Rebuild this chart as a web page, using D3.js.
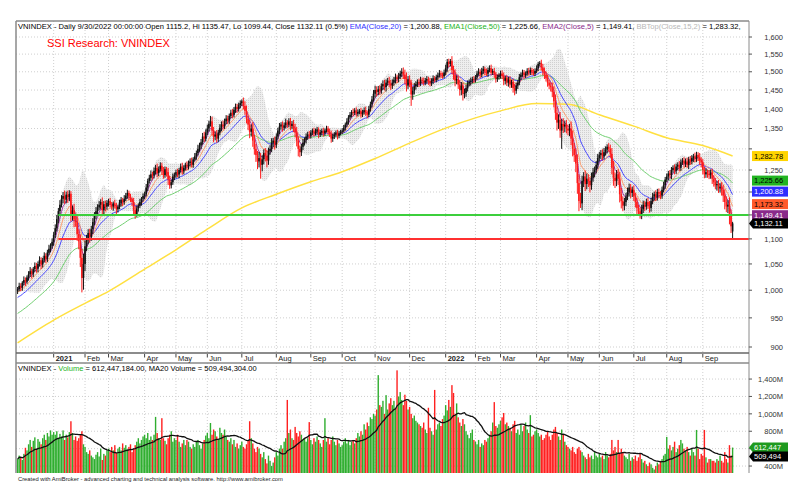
<!DOCTYPE html>
<html>
<head>
<meta charset="utf-8">
<script src="https://cdn.jsdelivr.net/npm/d3@7"></script>
<style>
  body { margin: 0; background: #fff; }
  svg { display: block; font-family: "Liberation Sans", Arial, sans-serif; }
</style>
</head>
<body>
<svg id="chart" width="800" height="485"></svg>
<script>
// ---- data ----
const monthLabels = ["", "2021", "Feb", "Mar", "Apr", "May", "Jun", "Jul", "Aug", "Sep", "Oct", "Nov",
  "Dec", "2022", "Feb", "Mar", "Apr", "May", "Jun", "Jul", "Aug", "Sep"];
const monthBars = [23, 20, 15, 23, 20, 20, 22, 22, 22, 20, 21, 22, 23, 19, 16, 23, 20, 20, 22, 21, 23, 20];

const closes = [
  1002, 1008, 1005, 1014, 1019, 1016, 1024, 1030, 1036, 1031, 1040, 1046, 1041, 1050, 1057, 1049, 1058, 1066, 1060, 1072, 1080, 1086, 1094,
  1108, 1122, 1141, 1158, 1172, 1185, 1191, 1183, 1194, 1188, 1196, 1150, 1160, 1140, 1135, 1110, 1095, 1062, 1023, 1050,
  1085, 1098, 1112, 1104, 1120, 1135, 1150, 1158, 1166, 1172, 1178, 1160, 1173, 1168, 1176,
  1180, 1172, 1168, 1175, 1170, 1162, 1167, 1176, 1183, 1178, 1185, 1192, 1198, 1190, 1184, 1178, 1160, 1152, 1164, 1170, 1178, 1185, 1191,
  1195, 1210, 1225, 1232, 1240, 1237, 1248, 1255, 1243, 1252, 1260, 1248, 1238, 1252, 1245, 1228, 1215, 1222, 1235, 1239,
  1245, 1240, 1250, 1258, 1247, 1255, 1262, 1258, 1266, 1270, 1262, 1275, 1282, 1290, 1300, 1308, 1316, 1330, 1325, 1340,
  1350, 1362, 1368, 1345, 1330, 1335, 1325, 1340, 1352, 1360, 1355, 1368, 1375, 1370, 1382, 1390, 1385, 1398, 1405, 1400, 1410, 1415,
  1420, 1408, 1395, 1375, 1360, 1342, 1350, 1320, 1300, 1285, 1270, 1278, 1262, 1275, 1290, 1284, 1272, 1295, 1300, 1315, 1320, 1310,
  1330, 1345, 1355, 1360, 1352, 1358, 1365, 1360, 1368, 1356, 1362, 1350, 1340, 1320, 1300, 1292, 1305, 1315, 1322, 1330, 1335, 1332,
  1340, 1345, 1338, 1342, 1348, 1335, 1340, 1344, 1338, 1345, 1350, 1342, 1336, 1325, 1330, 1335, 1340, 1332, 1338, 1342,
  1345, 1352, 1360, 1368, 1378, 1385, 1392, 1390, 1396, 1388, 1392, 1395, 1386, 1392, 1397, 1390, 1385, 1400, 1412, 1425, 1440,
  1450, 1445, 1452, 1448, 1460, 1466, 1458, 1470, 1475, 1468, 1462, 1470, 1478, 1485, 1480, 1488, 1495, 1500, 1492, 1480, 1462, 1478,
  1470, 1438, 1448, 1460, 1466, 1472, 1468, 1478, 1475, 1470, 1476, 1480, 1474, 1468, 1475, 1482, 1478, 1485, 1490, 1496, 1492, 1488, 1498,
  1510, 1528, 1522, 1530, 1505, 1492, 1476, 1480, 1465, 1450, 1462, 1440, 1442, 1455, 1468, 1472, 1475, 1480, 1478,
  1485, 1495, 1500, 1492, 1502, 1508, 1500, 1495, 1505, 1510, 1498, 1502, 1492, 1480, 1485, 1490,
  1495, 1488, 1475, 1482, 1470, 1478, 1465, 1472, 1455, 1448, 1462, 1470, 1485, 1492, 1498, 1490, 1495, 1502, 1498, 1505, 1500, 1495, 1502,
  1510, 1522, 1525, 1512, 1500, 1492, 1482, 1470, 1462, 1458, 1445, 1420, 1390, 1365, 1372, 1345, 1362, 1355, 1360, 1350,
  1345, 1350, 1325, 1300, 1285, 1265, 1220, 1180, 1175, 1225, 1235, 1218, 1230, 1225, 1215, 1232, 1245, 1250, 1262, 1278,
  1285, 1290, 1282, 1292, 1298, 1305, 1300, 1288, 1255, 1232, 1225, 1240, 1230, 1195, 1180, 1170, 1178, 1190, 1200, 1210, 1198, 1205,
  1190, 1178, 1165, 1158, 1150, 1162, 1172, 1168, 1178, 1172, 1165, 1180, 1190, 1195, 1188, 1200, 1196, 1192, 1205, 1215, 1228,
  1235, 1242, 1238, 1250, 1255, 1248, 1258, 1262, 1255, 1268, 1272, 1265, 1270, 1262, 1275, 1270, 1278, 1282, 1276, 1285, 1280, 1272, 1268,
  1250, 1240, 1245, 1242, 1238, 1244, 1230, 1222, 1215, 1218, 1208, 1212, 1204, 1192, 1178, 1168, 1172, 1148, 1126, 1132.11
];
const firstOpen = 998;
const lastOpen = 1115.2;

// distance of the high above the body and of the low below it
const wickUp = [
  4, 6, 5, 3, 7, 5, 4, 6, 8, 5, 4, 7, 6, 5, 8, 6, 4, 7, 5, 6, 8, 5, 7,
  6, 8, 9, 7, 10, 8, 9, 12, 7, 9, 8, 6, 10, 14, 9, 12, 10, 14, 18, 20,
  12, 10, 8, 9, 7, 8, 6, 9, 7, 8, 6, 10, 7, 8, 6,
  5, 7, 6, 4, 8, 6, 5, 7, 6, 4, 8, 6, 7, 5, 6, 4, 9, 8, 6, 5, 7, 4, 6,
  6, 8, 5, 7, 9, 6, 8, 7, 10, 6, 8, 7, 9, 6, 5, 10, 8, 6, 7, 5,
  6, 8, 5, 7, 9, 6, 5, 8, 6, 7, 9, 5, 8, 6, 10, 7, 8, 9, 12, 8,
  10, 8, 14, 12, 9, 8, 11, 7, 9, 8, 10, 7, 9, 8, 6, 8, 10, 7, 9, 8, 6, 7,
  5, 10, 12, 14, 8, 12, 10, 16, 14, 12, 10, 15, 12, 10, 9, 12, 14, 8, 9, 11, 7, 10,
  8, 7, 9, 6, 8, 7, 10, 6, 8, 9, 7, 10, 12, 14, 10, 8, 7, 9, 6, 8, 7, 9,
  6, 5, 7, 8, 6, 5, 7, 6, 8, 5, 7, 6, 8, 9, 7, 6, 5, 7, 6, 5,
  6, 7, 5, 8, 6, 7, 5, 9, 6, 8, 7, 5, 8, 6, 7, 9, 6, 8, 7, 9, 10,
  12, 10, 9, 11, 8, 10, 12, 9, 8, 11, 10, 9, 8, 10, 7, 9, 8, 10, 12, 14, 18, 10,
  12, 8, 10, 9, 8, 7, 9, 8, 6, 9, 7, 8, 6, 9, 7, 8, 6, 7, 8, 9, 7, 6, 8,
  10, 8, 9, 6, 14, 12, 15, 10, 9, 12, 10, 8, 11, 9, 8, 7, 9, 6, 8,
  6, 8, 10, 7, 9, 8, 6, 9, 7, 8, 10, 6, 9, 8, 7, 6,
  8, 9, 10, 7, 9, 8, 10, 6, 9, 12, 8, 7, 9, 6, 8, 7, 6, 8, 9, 7, 6, 8, 7,
  8, 6, 5, 9, 10, 12, 9, 10, 8, 9, 12, 15, 18, 16, 14, 20, 12, 14, 10, 12,
  10, 12, 18, 20, 14, 16, 22, 20, 18, 12, 10, 14, 12, 10, 9, 12, 10, 8, 9, 10,
  8, 7, 9, 10, 8, 6, 9, 10, 14, 16, 12, 10, 12, 15, 14, 10, 9, 8, 10, 9, 8, 7,
  10, 8, 9, 7, 8, 10, 9, 8, 7, 9, 8, 7, 8, 6, 9, 7, 8, 6, 7, 8, 6,
  7, 6, 8, 7, 6, 8, 7, 6, 9, 7, 6, 8, 7, 9, 6, 8, 7, 6, 9, 8, 7, 10, 8,
  8, 7, 9, 6, 8, 7, 9, 8, 10, 7, 9, 8, 10, 12, 14, 12, 10, 16, 14, 3.36
];
const wickDn = [
  5, 4, 7, 6, 5, 8, 4, 6, 5, 9, 6, 5, 8, 7, 5, 9, 6, 5, 8, 6, 5, 7, 6,
  8, 6, 7, 9, 8, 6, 10, 9, 8, 12, 8, 14, 12, 16, 10, 14, 16, 18, 27, 22,
  14, 10, 9, 12, 8, 10, 7, 9, 8, 6, 9, 12, 8, 10, 7,
  8, 6, 7, 9, 6, 10, 7, 5, 8, 9, 6, 5, 7, 8, 6, 9, 12, 10, 6, 7, 5, 8, 6,
  7, 5, 8, 6, 7, 9, 6, 8, 10, 7, 6, 9, 8, 6, 10, 12, 8, 7, 6, 8,
  8, 7, 9, 6, 8, 7, 6, 9, 7, 8, 6, 7, 5, 8, 6, 7, 9, 6, 8, 7,
  6, 8, 7, 12, 14, 9, 10, 8, 7, 9, 8, 6, 7, 9, 8, 6, 9, 7, 8, 10, 7, 8,
  7, 9, 10, 12, 14, 16, 12, 15, 14, 16, 18, 14, 32, 15, 12, 14, 16, 10, 9, 8, 10, 12,
  8, 7, 9, 8, 10, 7, 8, 9, 7, 10, 8, 9, 12, 14, 18, 12, 9, 8, 7, 9, 8, 7,
  7, 6, 8, 5, 7, 9, 6, 7, 8, 6, 5, 8, 7, 10, 8, 6, 7, 9, 6, 5,
  6, 5, 7, 6, 8, 5, 7, 9, 6, 8, 7, 6, 9, 7, 6, 8, 9, 6, 7, 8, 6,
  10, 12, 9, 11, 8, 10, 9, 12, 8, 10, 12, 9, 8, 10, 11, 9, 8, 10, 12, 14, 16, 10,
  12, 30, 14, 10, 9, 8, 10, 7, 9, 8, 7, 9, 10, 8, 7, 9, 8, 7, 9, 6, 8, 7, 6,
  8, 10, 9, 7, 12, 14, 16, 10, 12, 15, 14, 18, 12, 10, 9, 8, 10, 7, 9,
  8, 7, 6, 9, 7, 8, 10, 7, 9, 6, 8, 7, 9, 10, 8, 7,
  9, 8, 12, 10, 9, 11, 10, 9, 12, 12, 8, 9, 7, 8, 6, 9, 7, 6, 8, 7, 9, 6, 7,
  6, 8, 7, 9, 10, 12, 9, 11, 10, 12, 14, 16, 18, 20, 16, 18, 45, 16, 14, 12,
  12, 14, 16, 18, 16, 20, 24, 22, 10, 15, 14, 16, 12, 14, 16, 10, 9, 12, 8, 9,
  8, 9, 10, 7, 8, 9, 7, 10, 15, 18, 16, 12, 14, 18, 16, 12, 10, 9, 8, 10, 12, 9,
  10, 12, 14, 10, 8, 9, 8, 10, 7, 9, 10, 8, 7, 9, 8, 7, 9, 8, 7, 6, 8,
  6, 8, 7, 9, 6, 8, 7, 9, 8, 7, 6, 9, 8, 7, 10, 8, 7, 9, 8, 7, 9, 10, 12,
  10, 9, 8, 10, 9, 8, 12, 10, 9, 12, 10, 9, 12, 14, 16, 12, 14, 18, 14, 15.76
];

// volume in millions of shares
const volumes = [
  480, 520, 505, 470, 540, 610, 580, 650, 700, 620, 690, 730, 600, 710, 680, 650, 720, 760, 700, 780, 740, 810, 760,
  790, 760, 800, 720, 770, 740, 810, 700, 760, 730, 790, 915, 780, 700, 740, 690, 720, 760, 800, 650,
  620, 560, 540, 580, 520, 500, 480, 530, 560, 510, 600, 470, 540, 520, 580,
  600, 560, 620, 580, 640, 550, 600, 620, 580, 660, 610, 640, 590, 620, 650, 560, 600, 640, 680, 720, 660, 700, 740,
  760, 720, 780, 700, 740, 700, 760, 965, 780, 720, 700, 950, 720, 690, 650, 720, 760, 800, 680, 720,
  700, 760, 680, 620, 660, 700, 640, 700, 680, 620, 600, 650, 620, 680, 700, 640, 600, 660, 700, 750,
  780, 720, 895, 760, 820, 800, 740, 700, 840, 780, 760, 820, 740, 700, 680, 720, 650, 700, 620, 660, 600, 640,
  680, 620, 600, 650, 700, 915, 720, 660, 600, 560, 620, 600, 540, 500, 560, 480, 430, 520, 460, 400, 440, 500,
  560, 520, 600, 640, 600, 680, 720, 1160, 780, 820, 720, 700, 850, 780, 740, 800, 760, 700, 720, 680, 720, 905,
  700, 650, 720, 680, 740, 700, 660, 620, 700, 950, 680, 720, 650, 700, 740, 680, 640, 700, 660, 620,
  640, 680, 720, 660, 700, 640, 680, 700, 660, 720, 780, 740, 800, 760, 880, 820, 900, 860, 960, 940, 1000,
  980, 1050, 1445, 1100, 1080, 1150, 1000, 1215, 1050, 1120, 1180, 1100, 1150, 1060, 1500, 1200, 1250, 1160, 1100, 1220, 1150, 1050,
  1080, 1000, 950, 980, 920, 900, 880, 860, 840, 900, 820, 780, 1070, 840, 800, 760, 1275, 820, 880, 900, 860, 940, 980,
  1100, 1040, 1160, 1080, 1330, 1240, 1000, 1120, 960, 900, 860, 940, 880, 800, 760, 720, 780, 820, 700,
  680, 650, 700, 620, 660, 640, 700, 680, 720, 760, 800, 900, 1135, 860, 840, 880,
  920, 960, 1010, 880, 900, 860, 840, 800, 880, 920, 780, 820, 760, 880, 800, 860, 900, 820, 780, 985, 740, 760, 800,
  820, 780, 740, 760, 700, 720, 760, 800, 740, 700, 760, 820, 850, 780, 740, 700, 820, 760, 680, 640,
  620, 600, 580, 620, 560, 540, 600, 620, 580, 560, 520, 500, 480, 540, 500, 520, 480, 560, 520, 500,
  540, 500, 520, 480, 560, 520, 500, 540, 700, 580, 620, 560, 700, 540, 600, 560, 520, 500, 480, 540, 460, 500,
  480, 520, 460, 500, 540, 480, 440, 460, 420, 400, 440, 420, 380, 360, 400, 440, 420, 460, 480, 520, 540,
  735, 600, 640, 580, 620, 680, 560, 600, 640, 700, 660, 600, 580, 620, 560, 520, 600, 560, 520, 815, 600, 480, 540,
  520, 815, 500, 440, 480, 480, 460, 460, 440, 480, 460, 520, 460, 440, 560, 480, 440, 640, 520, 612.447
];

// yellow long average, read at each month start and at the last bar
const ma200Pts = [907, 946, 976, 998, 1040, 1078, 1120, 1165, 1195, 1223, 1246, 1277, 1314, 1351, 1377, 1395,
  1414, 1412, 1385, 1356, 1327, 1308, 1283];

const emaPeriods = [50, 20, 10, 5];
const emaSeeds = [956, 985, 995, 1000];
const emaColors = ["#6fcf6f", "#4a4aff", "#ff9f70", "#a03ca8"];

const supportLevels = [1150, 1100];
const supportColors = ["#3ccf3c", "#ff3030"];
const supportFrom = 26;

const priceTicks = d3.range(900, 1601, 50);
const volTicks = [400, 600, 800, 1000, 1200, 1400];

const tagValues = [1282.78, 1225.66, 1200.88, 1173.32, 1149.41, 1132.11];
const tagFills = ["#ffd400", "#22b422", "#2e2eff", "#ff5a2a", "#8a2a8a", "#000"];
const tagInk = ["#000", "#000", "#fff", "#000", "#fff", "#fff"];
const volTagValues = [612.447, 509.494];
const volTagFills = ["#1f9a1f", "#000"];

// ---- derived series ----
const N = closes.length;
const opens = closes.map((c, i) => i === 0 ? firstOpen : (i === N - 1 ? lastOpen : closes[i - 1]));
const highs = closes.map((c, i) => Math.max(c, opens[i]) + wickUp[i]);
const lows = closes.map((c, i) => Math.min(c, opens[i]) - wickDn[i]);
const isUp = closes.map((c, i) => c >= opens[i]);

function ema(vals, n, seed) {
  const k = 2 / (n + 1);
  let e = seed;
  return vals.map(v => (e = e + k * (v - e)));
}

const bands = closes.map((c, i) => {
  const w = closes.slice(Math.max(0, i - 14), i + 1);
  const m = d3.mean(w);
  const sd = Math.sqrt(d3.mean(w, v => (v - m) * (v - m)));
  return { i, top: m + 2 * sd, bot: m - 2 * sd };
});

const volMa = volumes.map((v, i) => d3.mean(volumes.slice(Math.max(0, i - 19), i + 1)));

const monthStart = [];
monthBars.reduce((acc, n) => { monthStart.push(acc); return acc + n; }, 0);
const maIdx = monthStart.concat([N - 1]);

// ---- layout ----
const L = 16, R = 749, PT = 21, PB = 353, AXB = 363, VB = 473;

const svg = d3.select("#chart");
const x = d3.scaleLinear().domain([0, N - 1]).range([17.6, 732.6]);
const y = d3.scaleLog().domain([900, 1600]).range([347, 37]);
const yv = d3.scaleLinear().domain([320, 1550]).range([VB, AXB + 3]);

const defs = svg.append("defs");
defs.append("clipPath").attr("id", "cp").append("rect")
  .attr("x", L).attr("y", PT).attr("width", R - L).attr("height", PB - PT);
defs.append("clipPath").attr("id", "cv").append("rect")
  .attr("x", L).attr("y", AXB).attr("width", R - L).attr("height", VB - AXB);
const pat = defs.append("pattern").attr("id", "dots")
  .attr("width", 2).attr("height", 2).attr("patternUnits", "userSpaceOnUse");
pat.append("rect").attr("width", 2).attr("height", 2).attr("fill", "#eeeeee");
pat.append("rect").attr("width", 1).attr("height", 1).attr("fill", "#d0d0d0");

// grid
const grid = svg.append("g").attr("stroke", "#cfcfcf").attr("stroke-dasharray", "1,2");
grid.selectAll(".gp").data(priceTicks).join("line")
  .attr("x1", L).attr("x2", R).attr("y1", d => y(d)).attr("y2", d => y(d));
grid.selectAll(".gv").data(volTicks).join("line")
  .attr("x1", L).attr("x2", R).attr("y1", d => yv(d)).attr("y2", d => yv(d));
grid.selectAll(".gx").data(monthStart.slice(1)).join("line")
  .attr("x1", d => x(d)).attr("x2", d => x(d)).attr("y1", PT).attr("y2", PB);
grid.selectAll(".gx2").data(monthStart.slice(1)).join("line")
  .attr("x1", d => x(d)).attr("x2", d => x(d)).attr("y1", AXB).attr("y2", VB);

// price panel
const pg = svg.append("g").attr("clip-path", "url(#cp)");

pg.append("path").datum(bands)
  .attr("fill", "url(#dots)")
  .attr("d", d3.area().x(d => x(d.i)).y0(d => y(d.bot)).y1(d => y(d.top)));

pg.append("path").datum(ma200Pts)
  .attr("fill", "none").attr("stroke", "#ffe040").attr("stroke-width", 1.5)
  .attr("d", d3.line().x((d, k) => x(maIdx[k])).y(d => y(d)).curve(d3.curveMonotoneX));

emaPeriods.forEach((p, k) => {
  const s = ema(closes, p, emaSeeds[k]);
  pg.append("path").datum(s)
    .attr("fill", "none").attr("stroke", emaColors[k]).attr("stroke-width", 1)
    .attr("d", d3.line().x((d, i) => x(i)).y(d => y(d)));
});

const candles = pg.append("g");
candles.selectAll("line").data(d3.range(N)).join("line")
  .attr("x1", i => x(i)).attr("x2", i => x(i))
  .attr("y1", i => y(highs[i])).attr("y2", i => y(lows[i]))
  .attr("stroke", i => isUp[i] ? "#111" : "#ff1a1a").attr("stroke-width", 1);
candles.selectAll("rect").data(d3.range(N)).join("rect")
  .attr("x", i => x(i) - 0.8).attr("width", 1.6)
  .attr("y", i => y(Math.max(opens[i], closes[i])))
  .attr("height", i => Math.max(1, y(Math.min(opens[i], closes[i])) - y(Math.max(opens[i], closes[i]))))
  .attr("fill", i => isUp[i] ? "#111" : "#ff1a1a");

pg.selectAll(".sup").data(supportLevels).join("line")
  .attr("x1", x(supportFrom)).attr("x2", R)
  .attr("y1", d => y(d)).attr("y2", d => y(d))
  .attr("stroke", (d, k) => supportColors[k]).attr("stroke-width", 2);

// volume panel
const vg = svg.append("g").attr("clip-path", "url(#cv)");
vg.selectAll("rect").data(volumes).join("rect")
  .attr("x", (d, i) => x(i) - 0.7).attr("width", 1.4)
  .attr("y", d => yv(d)).attr("height", d => VB - yv(d))
  .attr("fill", (d, i) => isUp[i] ? "#2fae2f" : "#ff2020");
vg.append("path").datum(volMa)
  .attr("fill", "none").attr("stroke", "#111").attr("stroke-width", 1.3)
  .attr("d", d3.line().x((d, i) => x(i)).y(d => yv(d)));

// frames
const fr = svg.append("g").attr("stroke", "#8a8a8a").attr("fill", "none");
fr.append("line").attr("x1", L).attr("x2", R).attr("y1", PT).attr("y2", PT).attr("stroke-width", 1.5);
fr.append("line").attr("x1", L).attr("x2", L).attr("y1", PT).attr("y2", VB).attr("stroke-width", 1.5);
fr.append("line").attr("x1", R).attr("x2", R).attr("y1", PT).attr("y2", VB);
fr.append("line").attr("x1", L).attr("x2", R).attr("y1", PB).attr("y2", PB).attr("stroke", "#666").attr("stroke-width", 1.5);
fr.append("line").attr("x1", L).attr("x2", R).attr("y1", AXB).attr("y2", AXB).attr("stroke-width", 1.5);

// right axes: tick labels hidden behind a value tag are left out, as in the picture
const priceTagY = tagValues.map(y);
const volTagY = volTagValues.map(yv);
const clear = (ty, tags) => tags.every(t => Math.abs(t - ty) > 8.5);

const ax = svg.append("g").attr("font-size", 7.5).attr("fill", "#333").attr("text-anchor", "end");
ax.selectAll(".tp").data(priceTicks.filter(d => clear(y(d), priceTagY))).join("text")
  .attr("x", 783).attr("y", d => y(d) + 2.7).text(d => d3.format(",")(d));
ax.selectAll(".tv").data(volTicks.filter(d => clear(yv(d), volTagY))).join("text")
  .attr("x", 783).attr("y", d => yv(d) + 2.7).text(d => d3.format(",")(d) + "M");
svg.append("g").attr("stroke", "#555").selectAll("line").data(priceTicks.map(y).concat(volTicks.map(yv))).join("line")
  .attr("x1", R).attr("x2", R + 3).attr("y1", d => d).attr("y2", d => d);

// x axis month labels
const xa = svg.append("g").attr("font-size", 7.5).attr("fill", "#222");
monthStart.forEach((s, k) => {
  if (!monthLabels[k]) return;
  const xx = x(s);
  xa.append("line").attr("x1", xx).attr("x2", xx).attr("y1", 354).attr("y2", 357.5).attr("stroke", "#444");
  xa.append("text").attr("x", xx + 2).attr("y", 361)
    .attr("font-weight", /^\d/.test(monthLabels[k]) ? "bold" : null)
    .text(monthLabels[k]);
});

// value tags on the right
const fmt2 = d3.format(",.2f");
tagValues.forEach((v, k) => {
  const ty = priceTagY[k];
  const g = svg.append("g");
  if (k === tagValues.length - 1) {
    g.append("path").attr("d", `M${R},${ty} L${R + 4},${ty - 5} H788 V${ty + 5} H${R + 4} Z`).attr("fill", tagFills[k]);
  } else {
    g.append("rect").attr("x", 752).attr("y", ty - 5).attr("width", 36).attr("height", 10).attr("fill", tagFills[k]);
  }
  g.append("text").attr("x", 754).attr("y", ty + 2.8).attr("font-size", 7.5).attr("fill", tagInk[k]).text(fmt2(v));
});
volTagValues.forEach((v, k) => {
  const ty = volTagY[k];
  const g = svg.append("g");
  g.append("path").attr("d", `M${R},${ty} L${R + 4},${ty - 5} H788 V${ty + 5} H${R + 4} Z`).attr("fill", volTagFills[k]);
  g.append("text").attr("x", 754).attr("y", ty + 2.8).attr("font-size", 7.5).attr("fill", "#fff")
    .text(d3.format(",.0f")(v * 1000));
});

// titles
function fitText(sel, width) {
  const len = sel.node().getComputedTextLength();
  const fs = parseFloat(sel.attr("font-size"));
  sel.attr("font-size", fs * width / len);
}
const title = svg.append("text").attr("x", 18).attr("y", 29).attr("font-size", 7.5).attr("fill", "#000");
[
  ["VNINDEX - Daily 9/30/2022 00:00:00 Open 1115.2, Hi 1135.47, Lo 1099.44, Close 1132.11 (0.5%) ", "#000"],
  ["EMA(Close,20)", "#2e2eff"], [" = 1,200.88, ", "#000"],
  ["EMA1(Close,50)", "#22b422"], [" = 1,225.66, ", "#000"],
  ["EMA2(Close,5)", "#8a2a8a"], [" = 1,149.41, ", "#000"],
  ["BBTop(Close,15,2)", "#b8b8b8"], [" = 1,283.32,", "#000"]
].forEach(([t, c]) => title.append("tspan").attr("fill", c).text(t));
fitText(title, 724);

svg.append("text").attr("x", 47).attr("y", 47).attr("font-size", 11).attr("fill", "#ff0000")
  .text("SSI Research: VNINDEX");

const vt = svg.append("text").attr("x", 18).attr("y", 370.5).attr("font-size", 7.5).attr("fill", "#000");
vt.append("tspan").text("VNINDEX - ");
vt.append("tspan").attr("fill", "#22b422").text("Volume");
vt.append("tspan").text(" = 612,447,184.00, MA20 Volume = 509,494,304.00");
fitText(vt, 239);

const ft = svg.append("text").attr("x", 18).attr("y", 481).attr("font-size", 5.6).attr("fill", "#222")
  .text("Created with AmiBroker - advanced charting and technical analysis software. http://www.amibroker.com");
fitText(ft, 265);
</script>
</body>
</html>
